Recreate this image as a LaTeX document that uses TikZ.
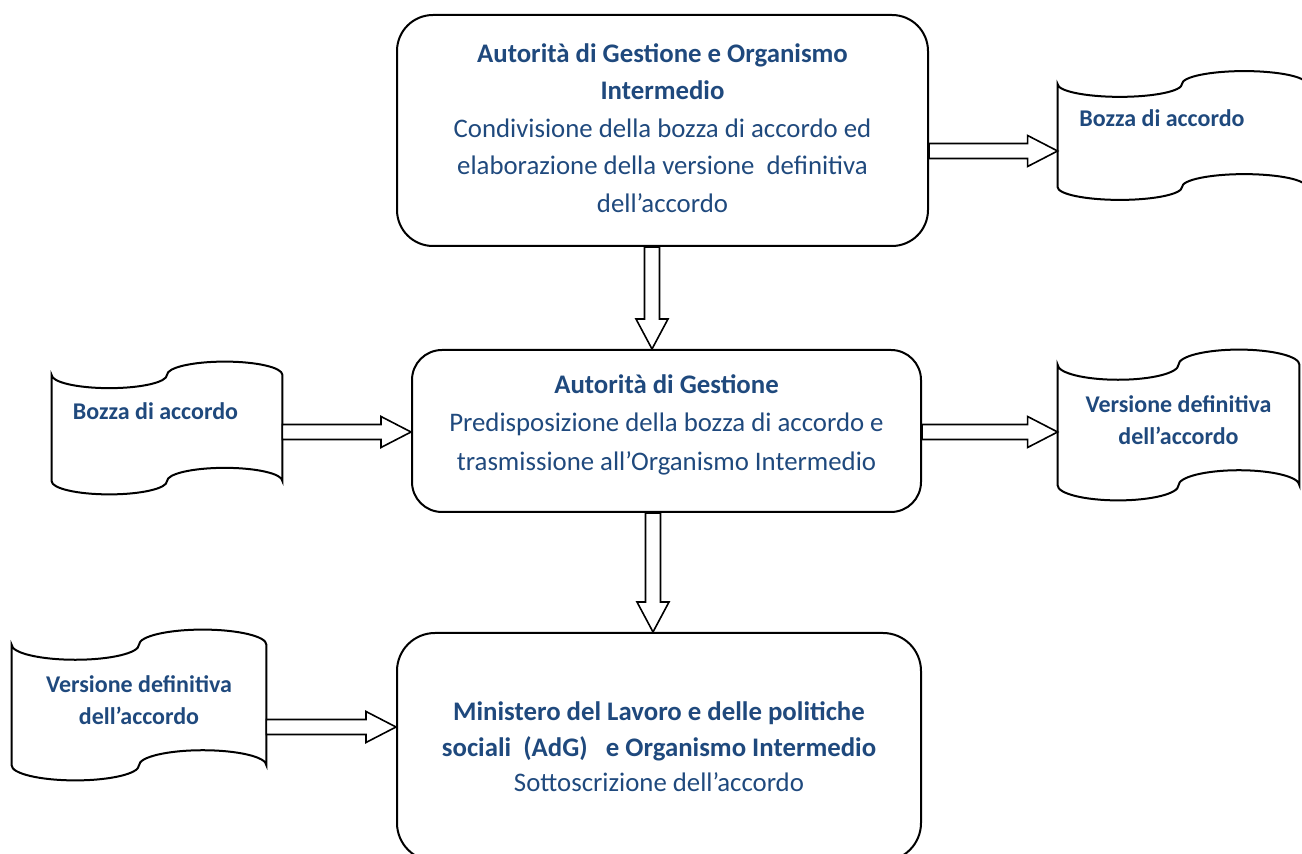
\documentclass[tikz,border=0pt]{standalone}
\usepackage{fontspec}
\setmainfont{Carlito}
\usetikzlibrary{calc}
\definecolor{TextBlue}{HTML}{1F497D}

\tikzset{
  phase/.style={draw, line width=1pt, align=center, text=TextBlue},
  doc/.style={inner sep=0pt},
  doctext/.style={align=center, text=TextBlue, font=\fontsize{12}{16}\selectfont\bfseries},
  rarrow/.style={draw, fill=white, line width=0.8pt, to path={
    let \p1=(\tikztostart), \p2=(\tikztotarget) in
    (\x1,\y2+3.75pt) -- (\x2-15pt,\y2+3.75pt) -- (\x2-15pt,\y2+7.75pt) -- (\x2,\y2)
    -- (\x2-15pt,\y2-7.75pt) -- (\x2-15pt,\y2-3.75pt) -- (\x1,\y2-3.75pt) -- cycle}},
  darrow/.style={draw, fill=white, line width=0.8pt, to path={
    let \p1=(\tikztostart), \p2=(\tikztotarget) in
    (\x1-3.75pt,\y1) -- (\x1-3.75pt,\y2+15pt) -- (\x1-8pt,\y2+15pt) -- (\x1,\y2)
    -- (\x1+8pt,\y2+15pt) -- (\x1+3.75pt,\y2+15pt) -- (\x1+3.75pt,\y1) -- cycle}}
}

% punched tape outline round a doc node
\newcommand{\docoutline}[1]{%
  \draw[line width=1pt] let \p1=(#1.north west), \p2=(#1.south east),
    \n1={(\x2-\x1)/4}, \n2={(\y1-\y2)/10} in
    (\x1,\y1-\n2) arc[start angle=180, end angle=360, x radius=\n1, y radius=\n2]
    arc[start angle=180, end angle=0, x radius=\n1, y radius=\n2]
    -- (\x2,\y2+\n2) arc[start angle=0, end angle=180, x radius=\n1, y radius=\n2]
    arc[start angle=0, end angle=-180, x radius=\n1, y radius=\n2] -- cycle;}

\begin{document}
\begin{tikzpicture}[x=0.5pt, y=-0.5pt]
  \useasboundingbox (0,0) rectangle (1302,854);

  % phases
  \node[phase, rounded corners=18pt, minimum width=265.5pt, minimum height=115.5pt, text depth=2.5pt,
    font=\fontsize{13.4}{18.75}\selectfont] (agoi) at (662.5,130.5)
    {\textbf{Autorità di Gestione e Organismo}\\ \textbf{Intermedio}\\
     Condivisione della bozza di accordo ed\\ elaborazione della versione\ \ definitiva\\ dell’accordo};
  \node[phase, rounded corners=15pt, minimum width=254.5pt, minimum height=81pt, text depth=8.5pt,
    font=\fontsize{13.4}{19.25}\selectfont] (adg) at (666.5,431)
    {\textbf{Autorità di Gestione}\\ Predisposizione della bozza di accordo e\\ trasmissione all’Organismo Intermedio};
  \node[phase, rounded corners=19pt, minimum width=262pt, minimum height=114pt,
    font=\fontsize{13.4}{17.75}\selectfont] (min) at (659,747)
    {\textbf{Ministero del Lavoro e delle politiche}\\ \textbf{sociali\ \ (AdG)\ \ \ e Organismo Intermedio}\\ Sottoscrizione dell’accordo};

  % documents
  \node[doc, minimum width=124pt, minimum height=64pt] (bozza1) at (1182,135.5) {};
  \node[doc, minimum width=115pt, minimum height=66pt] (bozza2) at (167,428) {};
  \node[doc, minimum width=120.5pt, minimum height=75pt] (vers1) at (1178.5,425) {};
  \node[doc, minimum width=127pt, minimum height=75pt] (vers2) at (139,705) {};
  \docoutline{bozza1}
  \docoutline{bozza2}
  \docoutline{vers1}
  \docoutline{vers2}

  \node[doctext] (bozza1txt) at ([xshift=-10pt,yshift=8.75pt]bozza1.center) {Bozza di accordo};
  \node[doctext] (bozza2txt) at ([xshift=-5.75pt,yshift=8.5pt]bozza2.center) {Bozza di accordo};
  \node[doctext] (vers1txt) at ([yshift=2.5pt]vers1.center) {Versione definitiva\\ dell’accordo};
  \node[doctext] (vers2txt) at ([yshift=2.5pt]vers2.center) {Versione definitiva\\ dell’accordo};

  % flows
  \draw[rarrow] (agoi.east) to ([yshift=-7.75pt]bozza1.west);
  \draw[darrow] ([xshift=-5.25pt]agoi.south) to (adg.north);
  \draw[rarrow] (bozza2.east) to ([yshift=-0.5pt]adg.west);
  \draw[rarrow] (adg.east) to ([yshift=-3.5pt]vers1.west);
  \draw[darrow] ([xshift=-6.75pt]adg.south) to (min.north);
  \draw[rarrow] (vers2.east) to ([yshift=10pt]min.west);
\end{tikzpicture}
\end{document}
